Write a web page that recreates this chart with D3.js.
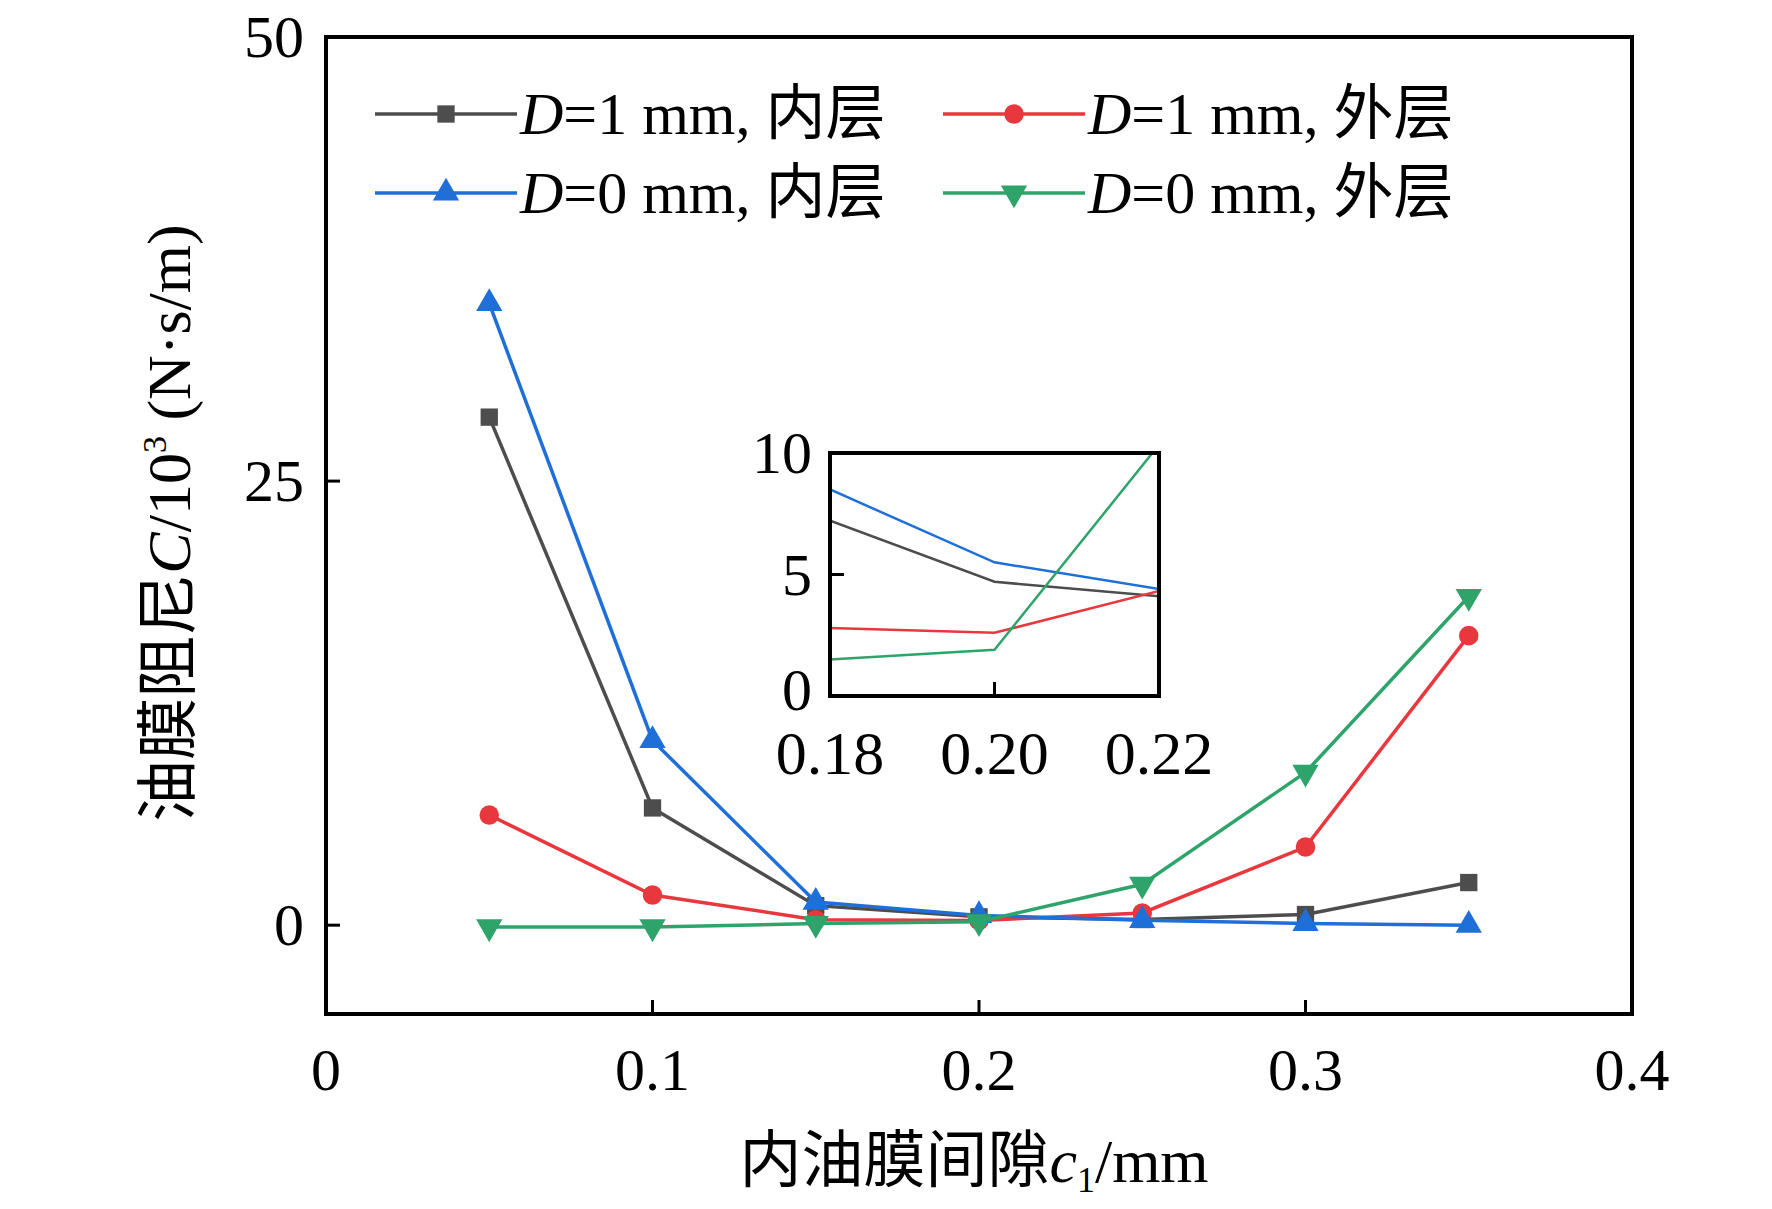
<!DOCTYPE html>
<html lang="zh">
<head>
<meta charset="UTF-8">
<script src="https://d3js.org/d3.v7.min.js"></script>
<style>
  body { margin: 0; background: #fff; }
  text { font-family: "Liberation Serif", "Noto Sans CJK SC", serif; fill: #000; }
</style>
</head>
<body>
<svg id="chart" width="1772" height="1209"></svg>
<script>
// data
const xs = [0.05, 0.10, 0.15, 0.20, 0.25, 0.30, 0.35];
const d1Inner = [28.6, 6.6, 1.1, 0.47, 0.32, 0.6, 2.4];
const d1Outer = [6.2, 1.7, 0.31, 0.26, 0.69, 4.4, 16.3];
const d0Inner = [35.0, 10.4, 1.3, 0.55, 0.275, 0.1, 0.0];
const d0Outer = [-0.1, -0.1, 0.09, 0.19, 2.3, 8.6, 18.5];
const xTicks = [0, 0.1, 0.2, 0.3, 0.4];
const yTicks = [0, 25, 50];
const insetXTicks = [0.18, 0.20, 0.22];
const insetYTicks = [0, 0.5, 1.0];

const series = [
  { name: "1 mm, 内层", vals: d1Inner, color: "#4d4d4d", sym: d3.symbolSquare },
  { name: "1 mm, 外层", vals: d1Outer, color: "#e8383d", sym: d3.symbolCircle },
  { name: "0 mm, 内层", vals: d0Inner, color: "#1f6fd8", sym: d3.symbolTriangle },
  { name: "0 mm, 外层", vals: d0Outer, color: "#2ea36a", sym: "down" }
];

const svg = d3.select("#chart");
const L = 326, R = 1632, T = 37, B = 1014;
const x = d3.scaleLinear().domain([0, 0.4]).range([L, R]);
const y = d3.scaleLinear().domain([-5, 50]).range([B, T]);

function marker(g, s, size) {
  const p = g.append("path").attr("d", d3.symbol(s.sym === "down" ? d3.symbolTriangle : s.sym, size)()).attr("fill", s.color);
  if (s.sym === "down") p.attr("transform", "rotate(180)");
}

const line = d3.line().x((d, i) => x(xs[i])).y(d => y(d));
series.forEach(s => {
  svg.append("path").attr("d", line(s.vals)).attr("fill", "none")
    .attr("stroke", s.color).attr("stroke-width", 3.5);
  s.vals.forEach((v, i) => {
    marker(svg.append("g").attr("transform", `translate(${x(xs[i])},${y(v)})`), s, 300);
  });
});

// frame and ticks
svg.append("rect").attr("x", L).attr("y", T).attr("width", R - L).attr("height", B - T)
  .attr("fill", "none").attr("stroke", "#000").attr("stroke-width", 4);
xTicks.forEach(t => {
  svg.append("line").attr("x1", x(t)).attr("x2", x(t)).attr("y1", B).attr("y2", B - 14).attr("stroke", "#000").attr("stroke-width", 3);
  svg.append("text").attr("x", x(t)).attr("y", B + 76).attr("text-anchor", "middle").attr("font-size", 60).text(t);
});
yTicks.forEach(t => {
  svg.append("line").attr("x1", L).attr("x2", L + 14).attr("y1", y(t)).attr("y2", y(t)).attr("stroke", "#000").attr("stroke-width", 3);
  svg.append("text").attr("x", L - 22).attr("y", y(t) + 20).attr("text-anchor", "end").attr("font-size", 60).text(t);
});

// axis titles
const xl = svg.append("text").attr("x", 974).attr("y", 1182).attr("text-anchor", "middle").attr("font-size", 62);
xl.append("tspan").text("内油膜间隙");
xl.append("tspan").attr("font-style", "italic").text("c");
xl.append("tspan").attr("font-size", 36).attr("dy", 10).text("1");
xl.append("tspan").attr("dy", -10).text("/mm");

const yl = svg.append("text").attr("transform", "translate(190,523) rotate(-90)").attr("text-anchor", "middle").attr("font-size", 62);
yl.append("tspan").text("油膜阻尼");
yl.append("tspan").attr("font-style", "italic").text("C");
yl.append("tspan").text("/10");
yl.append("tspan").attr("font-size", 34).attr("dy", -24).text("3");
yl.append("tspan").attr("dy", 24).text(" (N·s/m)");

// legend
const legPos = [[375, 114], [943, 114], [375, 193], [943, 193]];
series.forEach((s, i) => {
  const [lx, ly] = legPos[i];
  svg.append("line").attr("x1", lx).attr("x2", lx + 142).attr("y1", ly).attr("y2", ly).attr("stroke", s.color).attr("stroke-width", 3.5);
  marker(svg.append("g").attr("transform", `translate(${lx + 71},${ly})`), s, 300);
  const t = svg.append("text").attr("x", lx + 145).attr("y", ly + 20).attr("font-size", 60);
  t.append("tspan").attr("font-style", "italic").text("D");
  t.append("tspan").text("=" + s.name);
});

// inset
const iL = 830, iR = 1159, iT = 453, iB = 696;
const ix = d3.scaleLinear().domain([0.18, 0.22]).range([iL, iR]);
const iy = d3.scaleLinear().domain([0, 1]).range([iB, iT]);
svg.append("clipPath").attr("id", "ic").append("rect").attr("x", iL).attr("y", iT).attr("width", iR - iL).attr("height", iB - iT);
const ig = svg.append("g").attr("clip-path", "url(#ic)");
const iline = d3.line().x((d, i) => ix(xs[i])).y(d => iy(d));
series.forEach(s => {
  ig.append("path").attr("d", iline(s.vals)).attr("fill", "none").attr("stroke", s.color).attr("stroke-width", 2.5);
});
svg.append("rect").attr("x", iL).attr("y", iT).attr("width", iR - iL).attr("height", iB - iT)
  .attr("fill", "none").attr("stroke", "#000").attr("stroke-width", 4);
insetXTicks.forEach(t => {
  svg.append("line").attr("x1", ix(t)).attr("x2", ix(t)).attr("y1", iB).attr("y2", iB - 14).attr("stroke", "#000").attr("stroke-width", 3);
  svg.append("text").attr("x", ix(t)).attr("y", iB + 78).attr("text-anchor", "middle").attr("font-size", 62).text(t.toFixed(2));
});
insetYTicks.forEach(t => {
  svg.append("line").attr("x1", iL).attr("x2", iL + 14).attr("y1", iy(t)).attr("y2", iy(t)).attr("stroke", "#000").attr("stroke-width", 3);
  svg.append("text").attr("x", iL - 18).attr("y", iy(t) + (t === 0 ? 14 : 20)).attr("text-anchor", "end").attr("font-size", 60).text(Math.round(t * 10));
});
</script>
</body>
</html>
